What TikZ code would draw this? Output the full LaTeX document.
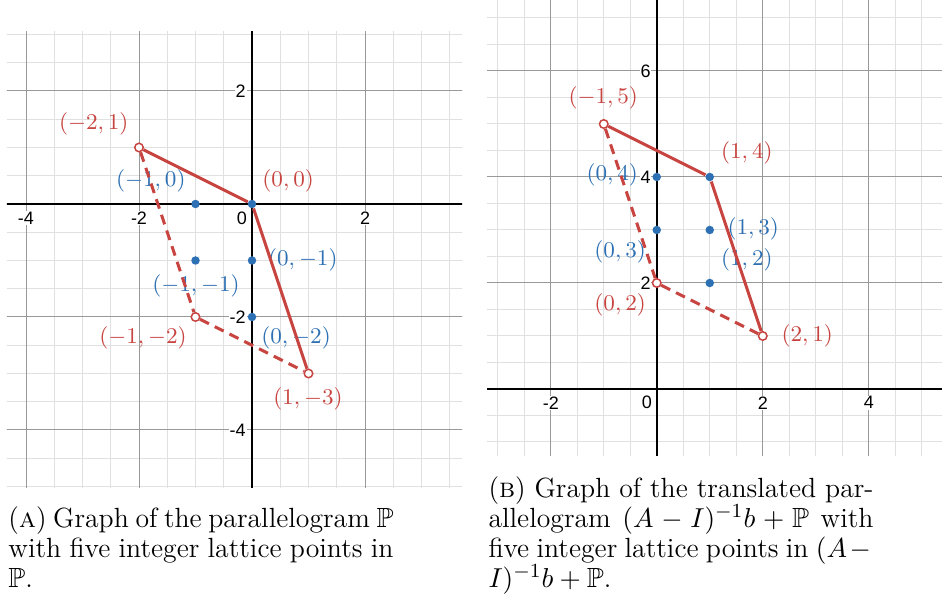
\documentclass[tikz,border=0pt]{standalone}
\usepackage{amsmath, amssymb}
\usepackage{fontspec}
\newfontfamily\ticksf{Liberation Sans}
\usetikzlibrary{positioning}
\definecolor{dred}{HTML}{C74440}
\definecolor{dblue}{HTML}{2D70B3}

\begin{document}
\begin{tikzpicture}[
  every node/.style={inner sep=1pt},
  gridminor/.style={black!12, line width=0.4pt},
  gridmajor/.style={black!40, line width=0.4pt},
  axisline/.style={black, line width=0.8pt},
  tick/.style={font=\ticksf\fontsize{7.2}{8}\selectfont, fill=white, inner sep=0.3pt},
  edge/.style={dred, line width=1.2pt},
  hidden/.style={edge, dash pattern=on 4pt off 2.6pt},
  vtx/.style={circle, draw=dred, fill=white, line width=0.6pt,
              minimum size=3.4pt, inner sep=0pt},
  lattice/.style={circle, fill=dblue, minimum size=3.4pt, inner sep=0pt},
  lbl/.style={font=\fontsize{8.8}{10}\selectfont, inner sep=0pt},
  redlbl/.style={lbl, text=dred},
  bluelbl/.style={lbl, text=dblue},
  captext/.style={anchor=north west, inner sep=0pt, text width=154pt,
                  align=justify, font=\fontsize{11.1}{12}\selectfont}]

\useasboundingbox (0,0) rectangle (379.6pt,-239.6pt);

% (a) the parallelogram P
\begin{scope}[shift={(100.8pt,-81.6pt)}, x=22.6pt, y=22.6pt]
  \begin{scope}
    \clip (-4.34,-5.02) rectangle (3.72,3.05);
    \foreach \g in {-4,-3.5,...,3.5}
      \draw[gridminor] (\g,-5.1) -- (\g,3.1);
    \foreach \g in {-5,-4.5,...,3}
      \draw[gridminor] (-4.4,\g) -- (3.8,\g);
    \foreach \g in {-4,-2,2} {
      \draw[gridmajor] (\g,-5.1) -- (\g,3.1);
      \draw[gridmajor] (-4.4,\g) -- (3.8,\g);
    }
    \draw[axisline] (-4.4,0) -- (3.8,0);
    \draw[axisline] (0,-5.1) -- (0,3.1);
  \end{scope}
  % tick labels
  \node[tick, yshift=-5.6pt] (ax1) at (-4,0) {-4};
  \node[tick, yshift=-5.6pt] (ax2) at (-2,0) {-2};
  \node[tick, yshift=-5.6pt] (ax3) at (2,0) {2};
  \node[tick, xshift=-4pt, yshift=-5.6pt] (ax0) at (0,0) {0};
  \node[tick, anchor=east, xshift=-2pt] (ay1) at (0,2) {2};
  \node[tick, anchor=east, xshift=-2pt] (ay2) at (0,-2) {-2};
  \node[tick, anchor=east, xshift=-2pt] (ay3) at (0,-4) {-4};
  % point labels
  \node[redlbl] (la) at (-2.80,1.42) {$(-2,1)$};
  \node[redlbl] (lo) at (0.64,0.41) {$(0,0)$};
  \node[bluelbl] (l1) at (-1.79,0.41) {$(-1,0)$};
  \node[bluelbl] (l3) at (0.90,-0.99) {$(0,-1)$};
  \node[bluelbl] (l2) at (-0.99,-1.45) {$(-1,-1)$};
  \node[redlbl] (lb) at (-1.93,-2.37) {$(-1,-2)$};
  \node[bluelbl] (l4) at (0.78,-2.37) {$(0,-2)$};
  \node[redlbl] (lc) at (0.99,-3.45) {$(1,-3)$};
  % vertices and lattice points
  \node[vtx] (pa) at (-2,1) {};
  \node[vtx] (pb) at (-1,-2) {};
  \node[vtx] (pc) at (1,-3) {};
  \node[lattice] (po) at (0,0) {};
  \node[lattice] (q1) at (-1,0) {};
  \node[lattice] (q2) at (-1,-1) {};
  \node[lattice] (q3) at (0,-1) {};
  \node[lattice] (q4) at (0,-2) {};
  \draw[edge] (pa) -- (po) -- (pc);
  \draw[hidden] (pa) -- (pb) -- (pc);
\end{scope}

% (b) the translated parallelogram
\begin{scope}[shift={(262.7pt,-155.6pt)}, x=21.2pt, y=21.2pt]
  \begin{scope}
    \clip (-3.2,-1.25) rectangle (5.38,7.34);
    \foreach \g in {-3,-2.5,...,5}
      \draw[gridminor] (\g,-1.3) -- (\g,7.4);
    \foreach \g in {-1,-0.5,...,7}
      \draw[gridminor] (-3.3,\g) -- (5.4,\g);
    \foreach \g in {-2,2,4}
      \draw[gridmajor] (\g,-1.3) -- (\g,7.4);
    \foreach \g in {2,4,6}
      \draw[gridmajor] (-3.3,\g) -- (5.4,\g);
    \draw[axisline] (-3.3,0) -- (5.4,0);
    \draw[axisline] (0,-1.3) -- (0,7.4);
  \end{scope}
  % tick labels
  \node[tick, yshift=-5.5pt] (bx1) at (-2,0) {-2};
  \node[tick, yshift=-5.5pt] (bx2) at (2,0) {2};
  \node[tick, yshift=-5.5pt] (bx3) at (4,0) {4};
  \node[tick, xshift=-4pt, yshift=-5.5pt] (bx0) at (0,0) {0};
  \node[tick, anchor=east, xshift=-2pt] (by1) at (0,2) {2};
  \node[tick, anchor=east, xshift=-2pt] (by2) at (0,4) {4};
  \node[tick, anchor=east, xshift=-2pt] (by3) at (0,6) {6};
  % point labels
  \node[redlbl] (ma) at (-1.01,5.49) {$(-1,5)$};
  \node[redlbl] (mo) at (1.70,4.45) {$(1,4)$};
  \node[bluelbl] (m1) at (-0.84,4.04) {$(0,4)$};
  \node[bluelbl] (m3) at (1.82,3.02) {$(1,3)$};
  \node[bluelbl] (m2) at (-0.69,2.58) {$(0,3)$};
  \node[bluelbl] (m4) at (1.70,2.43) {$(1,2)$};
  \node[redlbl] (mb) at (-0.69,1.58) {$(0,2)$};
  \node[redlbl] (mc) at (2.84,1.00) {$(2,1)$};
  % vertices and lattice points
  \node[vtx] (ra) at (-1,5) {};
  \node[vtx] (rb) at (0,2) {};
  \node[vtx] (rc) at (2,1) {};
  \node[lattice] (ro) at (1,4) {};
  \node[lattice] (s1) at (0,4) {};
  \node[lattice] (s2) at (0,3) {};
  \node[lattice] (s3) at (1,3) {};
  \node[lattice] (s4) at (1,2) {};
  \draw[edge] (ra) -- (ro) -- (rc);
  \draw[hidden] (ra) -- (rb) -- (rc);
\end{scope}

% captions
\node[captext] (capa) at (3.2pt,-202.6pt)
  {(\textsc{a}) Graph of the parallelogram $\mathbb{P}$\linebreak with five
   integer lattice points in\linebreak $\mathbb{P}$.};
\node[captext] (capb) at (195.2pt,-190.5pt)
  {(\textsc{b}) Graph of the translated par-\linebreak allelogram
   $(A-I)^{-1}b+\mathbb{P}$ with\linebreak five integer lattice points in
   $(A-{}$\linebreak $I)^{-1}b+\mathbb{P}$.};
\end{tikzpicture}
\end{document}
